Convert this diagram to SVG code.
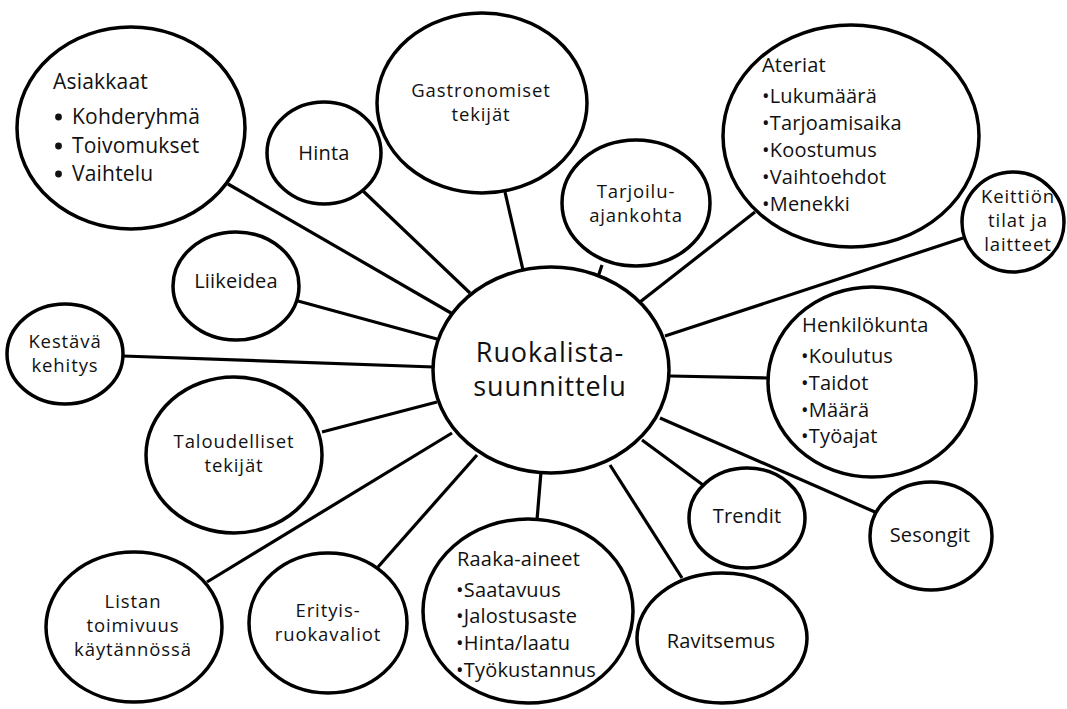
<svg xmlns="http://www.w3.org/2000/svg" width="1067" height="709" viewBox="0 0 1067 709">
<style>
.n{fill:#fff;stroke:#000;stroke-width:3.5}
.c line{stroke:#000;stroke-width:3.2}
text{font-family:"Open Sans","Noto Sans","Liberation Sans",sans-serif;font-size:20px;fill:#111;letter-spacing:0.2px}
.m{text-anchor:middle}
.t{font-size:18.5px;letter-spacing:0.9px}
.big{font-size:27px;letter-spacing:0.9px}
.a{font-size:21px}
</style>
<rect width="1067" height="709" fill="#fff"/>
<g class="c">
<line x1="228" y1="184" x2="451" y2="313"/>
<line x1="362" y1="190" x2="470" y2="293"/>
<line x1="505" y1="192" x2="523" y2="270"/>
<line x1="602" y1="265" x2="598" y2="277"/>
<line x1="755" y1="212" x2="640" y2="302"/>
<line x1="963" y1="238" x2="665" y2="336"/>
<line x1="768" y1="378" x2="670" y2="376"/>
<line x1="875" y1="512" x2="660" y2="418"/>
<line x1="703" y1="485" x2="642" y2="440"/>
<line x1="682" y1="578" x2="610" y2="465"/>
<line x1="537" y1="520" x2="541" y2="472"/>
<line x1="378" y1="567" x2="477" y2="455"/>
<line x1="207" y1="582" x2="452" y2="433"/>
<line x1="322" y1="432" x2="437" y2="402"/>
<line x1="298" y1="301" x2="437" y2="339"/>
<line x1="123" y1="356" x2="434" y2="367"/>
</g>
<g id="center"><ellipse class="n" cx="551" cy="370" rx="118" ry="103"/><text class="m big"><tspan x="550" y="362">Ruokalista-</tspan><tspan x="550" y="396">suunnittelu</tspan></text></g>
<g id="asiakkaat"><ellipse class="n" cx="131" cy="128" rx="114" ry="101"/><text class="a"><tspan x="53" y="89">Asiakkaat</tspan><tspan x="72" y="124">Kohderyhmä</tspan><tspan x="72" y="153">Toivomukset</tspan><tspan x="72" y="181">Vaihtelu</tspan></text><circle cx="58.5" cy="117" r="3.4" fill="#111"/><circle cx="58.5" cy="146" r="3.4" fill="#111"/><circle cx="58.5" cy="174" r="3.4" fill="#111"/></g>
<g id="hinta"><ellipse class="n" cx="324" cy="153" rx="57" ry="51"/><text class="m" x="324" y="160">Hinta</text></g>
<g id="gastro"><ellipse class="n" cx="482" cy="103" rx="105" ry="90"/><text class="m t"><tspan x="481" y="97">Gastronomiset</tspan><tspan x="481" y="121">tekijät</tspan></text></g>
<g id="tarjoilu"><ellipse class="n" cx="636" cy="203" rx="74" ry="63"/><text class="m t"><tspan x="636" y="198">Tarjoilu-</tspan><tspan x="636" y="222">ajankohta</tspan></text></g>
<g id="ateriat"><ellipse class="n" cx="851" cy="136" rx="128" ry="111"/><text><tspan x="762" y="72">Ateriat</tspan><tspan x="762" y="103">•Lukumäärä</tspan><tspan x="762" y="130">•Tarjoamisaika</tspan><tspan x="762" y="157">•Koostumus</tspan><tspan x="762" y="184">•Vaihtoehdot</tspan><tspan x="762" y="211">•Menekki</tspan></text></g>
<g id="keittio"><ellipse class="n" cx="1013" cy="222" rx="51" ry="50"/><text class="m t"><tspan x="1018" y="203">Keittiön</tspan><tspan x="1018" y="227">tilat ja</tspan><tspan x="1018" y="251">laitteet</tspan></text></g>
<g id="liikeidea"><ellipse class="n" cx="236" cy="286" rx="63" ry="54"/><text class="m" x="236" y="288">Liikeidea</text></g>
<g id="kestava"><ellipse class="n" cx="65" cy="354" rx="58" ry="50"/><text class="m t"><tspan x="65" y="348">Kestävä</tspan><tspan x="65" y="372">kehitys</tspan></text></g>
<g id="taloudelliset"><ellipse class="n" cx="234" cy="455" rx="88" ry="78"/><text class="m t"><tspan x="234" y="448">Taloudelliset</tspan><tspan x="234" y="472">tekijät</tspan></text></g>
<g id="henkilokunta"><ellipse class="n" cx="872" cy="382" rx="104" ry="95"/><text><tspan x="802" y="332">Henkilökunta</tspan><tspan x="801" y="363">•Koulutus</tspan><tspan x="801" y="390">•Taidot</tspan><tspan x="801" y="417">•Määrä</tspan><tspan x="801" y="443">•Työajat</tspan></text></g>
<g id="trendit"><ellipse class="n" cx="747" cy="518" rx="58" ry="50"/><text class="m" x="747" y="523">Trendit</text></g>
<g id="sesongit"><ellipse class="n" cx="931" cy="536" rx="61" ry="54"/><text class="m" x="930" y="542">Sesongit</text></g>
<g id="raaka"><ellipse class="n" cx="528" cy="611" rx="105" ry="92"/><text><tspan x="457" y="566">Raaka-aineet</tspan><tspan x="456" y="597">•Saatavuus</tspan><tspan x="456" y="623">•Jalostusaste</tspan><tspan x="456" y="650">•Hinta/laatu</tspan><tspan x="456" y="677">•Työkustannus</tspan></text></g>
<g id="ravitsemus"><ellipse class="n" cx="722" cy="638" rx="85" ry="65"/><text class="m" x="721" y="648">Ravitsemus</text></g>
<g id="listan"><ellipse class="n" cx="134" cy="627" rx="88" ry="75"/><text class="m t"><tspan x="133" y="608">Listan</tspan><tspan x="133" y="632">toimivuus</tspan><tspan x="133" y="656">käytännössä</tspan></text></g>
<g id="erityis"><ellipse class="n" cx="328" cy="623" rx="79" ry="70"/><text class="m t"><tspan x="328" y="617">Erityis-</tspan><tspan x="328" y="641">ruokavaliot</tspan></text></g>
</svg>
